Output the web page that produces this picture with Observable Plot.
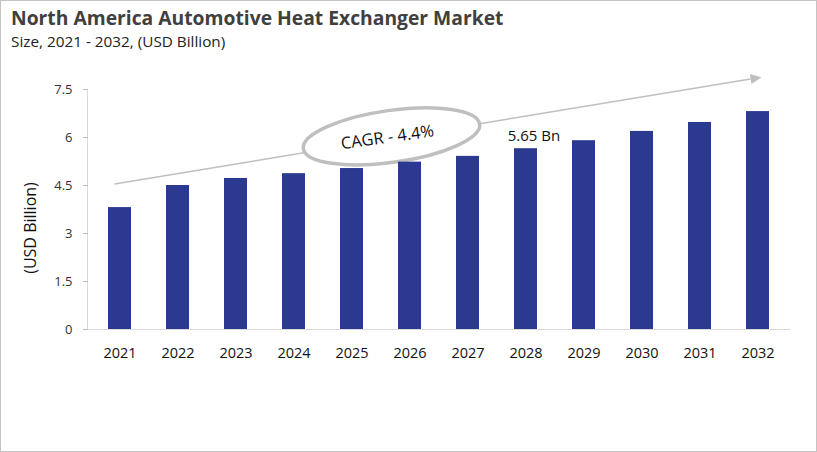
<!DOCTYPE html>
<html>
<head>
<meta charset="utf-8">
<script src="https://cdn.jsdelivr.net/npm/d3@7"></script>
<script src="https://cdn.jsdelivr.net/npm/@observablehq/plot@0.6"></script>
<style>
  body { margin: 0; background: #fff; }
  #frame { position: relative; width: 817px; height: 452px; overflow: hidden; background: #fff; font-family: "Open Sans", sans-serif; }
  #border { position: absolute; left: 0; top: 0; width: 815px; height: 450px; border: 1px solid #c4c4c4; pointer-events: none; }
  #title { position: absolute; left: 11px; top: 4px; font-size: 19.3px; font-weight: 700; color: #404040; white-space: nowrap; }
  #subtitle { position: absolute; left: 11px; top: 31px; font-size: 15.3px; color: #222; white-space: nowrap; }
  #chart { position: absolute; left: 0; top: 60px; }
</style>
</head>
<body>
<div id="frame">
  <div id="title">North America Automotive Heat Exchanger Market</div>
  <div id="subtitle">Size, 2021 - 2032, (USD Billion)</div>
  <div id="chart"></div>
  <div id="border"></div>
</div>
<script>
// ---- data ----
const years = ["2021", "2022", "2023", "2024", "2025", "2026", "2027", "2028", "2029", "2030", "2031", "2032"];
const values = [3.81, 4.50, 4.72, 4.87, 5.03, 5.23, 5.41, 5.65, 5.90, 6.19, 6.47, 6.81];
const yTicks = [0, 1.5, 3, 4.5, 6, 7.5];
const yTickLabels = ["0", "1.5", "3", "4.5", "6", "7.5"];
const yDomain = [0, 7.5];
const yAxisTitle = "(USD Billion)";
const barLabelYear = "2028";
const barLabelValue = 5.65;
const barLabelText = "5.65 Bn";
const cagrText = "CAGR - 4.4%";
const cagrYear = "2026";
const cagrValue = 6.02;
const trendStart = { year: "2021", value: 4.53 };
const trendEnd = { year: "2032", value: 7.87 };

const data = years.map((year, i) => ({ year, value: values[i] }));

// ---- custom annotation marks drawn through the plot's scales ----
function frameLines(index, scales, vals, dims) {
  const g = d3.create("svg:g");
  const x0 = dims.marginLeft - 0.5;
  const yb = scales.y(0) + 0.5;
  g.append("line").attr("x1", x0).attr("x2", x0)
    .attr("y1", scales.y(yDomain[1])).attr("y2", yb)
    .attr("stroke", "#d9d9d9").attr("stroke-width", 1);
  g.append("line").attr("x1", x0 - 4).attr("x2", dims.width - dims.marginRight)
    .attr("y1", yb).attr("y2", yb)
    .attr("stroke", "#d9d9d9").attr("stroke-width", 1.2);
  g.append("text")
    .attr("transform", `translate(${dims.marginLeft - 56},${(dims.marginTop + dims.height - dims.marginBottom) / 2 + 19}) rotate(-90)`)
    .attr("text-anchor", "middle").attr("dominant-baseline", "middle")
    .attr("font-size", 16).attr("fill", "#111").text(yAxisTitle);
  return g.node();
}

function trendAnnotation(index, scales, vals, dims) {
  const bw = scales.x.bandwidth ? scales.x.bandwidth() : 0;
  const cx = v => scales.x(v) + bw / 2;
  const g = d3.create("svg:g");
  const x1 = cx(trendStart.year) - 5, y1 = scales.y(trendStart.value);
  const x2 = cx(trendEnd.year) + 4, y2 = scales.y(trendEnd.value);
  const ang = Math.atan2(y2 - y1, x2 - x1);
  const head = 11, hw = 5;
  const bx = x2 - head * Math.cos(ang), by = y2 - head * Math.sin(ang);
  g.append("line").attr("x1", x1).attr("y1", y1).attr("x2", bx).attr("y2", by)
    .attr("stroke", "#bfbfbf").attr("stroke-width", 1.5);
  g.append("path")
    .attr("d", `M${x2},${y2}L${bx - hw * Math.sin(ang)},${by + hw * Math.cos(ang)}L${bx + hw * Math.sin(ang)},${by - hw * Math.cos(ang)}Z`)
    .attr("fill", "#bfbfbf");
  const ex = cx(cagrYear) - 18, ey = scales.y(cagrValue);
  g.append("ellipse").attr("cx", ex).attr("cy", ey).attr("rx", 89).attr("ry", 26)
    .attr("transform", `rotate(-8,${ex},${ey})`)
    .attr("fill", "#fff").attr("stroke", "#bfbfbf").attr("stroke-width", 3.5);
  g.append("text")
    .attr("transform", `translate(${ex - 4},${ey + 2}) rotate(-8)`)
    .attr("text-anchor", "middle").attr("dominant-baseline", "middle")
    .attr("font-size", 16.5).attr("fill", "#111").text(cagrText);
  return g.node();
}

const chart = Plot.plot({
  width: 817,
  height: 392,
  marginTop: 29,
  marginBottom: 123,
  marginLeft: 88,
  marginRight: 27,
  style: { fontFamily: "Open Sans, sans-serif", fontSize: "13px", color: "#333", background: "transparent" },
  x: { domain: years, paddingInner: 0.6, paddingOuter: 0.3, label: null, axis: null },
  y: { domain: yDomain, label: null, axis: null },
  marks: [
    frameLines,
    Plot.axisY({ ticks: yTicks, tickFormat: d => yTickLabels[yTicks.indexOf(d)], tickSize: 5, tickPadding: 11, stroke: "#bfbfbf", fill: "#333", fontSize: 13, label: null }),
    Plot.axisX({ tickSize: 0, tickPadding: 18, fill: "#111", fontSize: 14.5, label: null }),
    trendAnnotation,
    Plot.barY(data, { x: "year", y: "value", fill: "#2b3990" }),
    Plot.text([{ year: barLabelYear, value: barLabelValue, label: barLabelText }], {
      x: "year", y: "value", text: "label", dy: -13, dx: 8, fontSize: 15, fill: "#111"
    })
  ]
});
document.getElementById("chart").appendChild(chart);
</script>
</body>
</html>
